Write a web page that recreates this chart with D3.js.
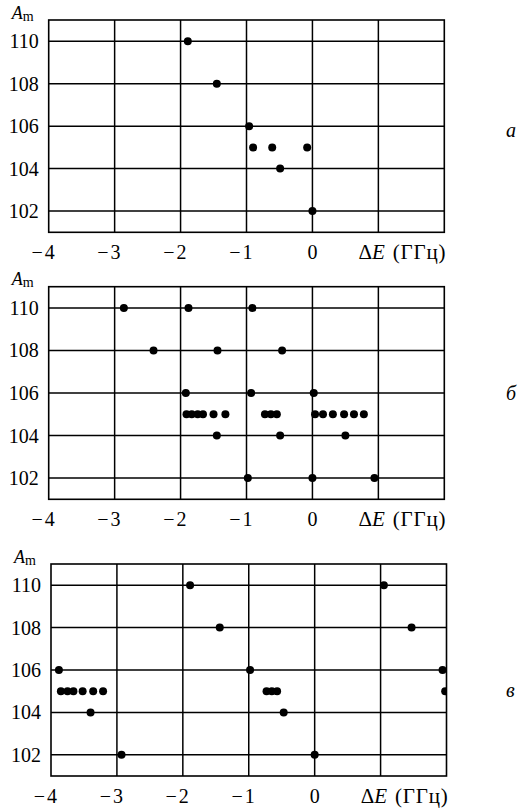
<!DOCTYPE html>
<html>
<head>
<meta charset="utf-8">
<script src="https://cdn.jsdelivr.net/npm/d3@7"></script>
<style>
  body { margin: 0; background: #fff; }
  svg { display: block; }
</style>
</head>
<body>
<div id="chart"></div>
<script>
// tick values shared by all three panels
const xTicks = [-4, -3, -2, -1, 0, 1, 2];
const xLabels = [-4, -3, -2, -1, 0];
const yTicks = [102, 104, 106, 108, 110];
const panelNames = ["a", "б", "в"];

// panel a
const dEa = [-1.89, -1.45, -0.96, -0.90, -0.61, -0.08, -0.49, 0.0];
const Ama = [110, 108, 106, 105, 105, 105, 104, 102];

// panel б
const dEb = [-2.86, -1.88, -0.91,
  -2.41, -1.44, -0.46,
  -1.92, -0.93, 0.02,
  -1.91, -1.83, -1.74, -1.66, -1.50, -1.32, -0.72, -0.63, -0.54, 0.04, 0.16, 0.31, 0.48, 0.63, 0.78,
  -1.45, -0.49, 0.50,
  -0.98, 0.0, 0.94];
const Amb = [110, 110, 110,
  108, 108, 108,
  106, 106, 106,
  105, 105, 105, 105, 105, 105, 105, 105, 105, 105, 105, 105, 105, 105, 105,
  104, 104, 104,
  102, 102, 102];

// panel в
const dEc = [-1.89, 1.05,
  -1.44, 1.47,
  -3.88, -0.98, 1.94,
  -3.85, -3.75, -3.66, -3.52, -3.36, -3.21, -0.73, -0.65, -0.57, 1.98,
  -3.40, -0.47,
  -2.93, 0.0];
const Amc = [110, 110,
  108, 108,
  106, 106, 106,
  105, 105, 105, 105, 105, 105, 105, 105, 105, 105,
  104, 104,
  102, 102];

const W = 518, H = 808;
const svg = d3.select("#chart").append("svg")
  .attr("width", W).attr("height", H)
  .attr("font-family", "'Liberation Serif', 'Times New Roman', Times, 'DejaVu Serif', serif");

// plot boxes (left, top, right, bottom) and letter positions
const boxes = [
  { l: 48.7, t: 20, r: 444.3, b: 232.3, ly: 137 },
  { l: 48.7, t: 286.7, r: 444.3, b: 499.3, ly: 400 },
  { l: 51, t: 564, r: 446.5, b: 776, ly: 697 }
];
const series = [[dEa, Ama], [dEb, Amb], [dEc, Amc]];

boxes.forEach((bx, i) => {
  const w = bx.r - bx.l, h = bx.b - bx.t;
  const x = d3.scaleLinear().domain([-4, 2]).range([0, w]);
  const y = d3.scaleLinear().domain([101, 111]).range([h, 0]);

  const g = svg.append("g").attr("transform", "translate(" + bx.l + "," + bx.t + ")");

  // grid
  g.selectAll(".vx").data(xTicks.slice(1, -1)).enter().append("line")
    .attr("x1", d => x(d)).attr("x2", d => x(d))
    .attr("y1", 0).attr("y2", h)
    .attr("stroke", "#000").attr("stroke-width", 1.5);
  g.selectAll(".hy").data(yTicks).enter().append("line")
    .attr("x1", 0).attr("x2", w)
    .attr("y1", d => y(d)).attr("y2", d => y(d))
    .attr("stroke", "#000").attr("stroke-width", 1.5);
  g.append("rect").attr("width", w).attr("height", h)
    .attr("fill", "none").attr("stroke", "#000").attr("stroke-width", 1.6);

  // points, clipped to the box
  const clipId = "clip" + i;
  g.append("clipPath").attr("id", clipId)
    .append("rect").attr("width", w).attr("height", h);
  const [xs, ys] = series[i];
  g.append("g").attr("clip-path", "url(#" + clipId + ")")
    .selectAll("circle").data(xs).enter().append("circle")
    .attr("cx", d => x(d))
    .attr("cy", (d, k) => y(ys[k]))
    .attr("r", 4)
    .attr("fill", "#000");

  // y tick labels
  g.selectAll(".yl").data(yTicks).enter().append("text")
    .attr("x", -10).attr("y", d => y(d)).attr("dy", "0.35em")
    .attr("text-anchor", "end").attr("font-size", 20)
    .text(d => d);

  // x tick labels: minus sign sits left of the digit
  xLabels.forEach(v => {
    const t = g.append("text")
      .attr("y", h + 27).attr("font-size", 20);
    if (v < 0) {
      t.attr("x", x(v) + 6).attr("text-anchor", "end");
      t.append("tspan").text("\u2212");
      t.append("tspan").attr("dx", 2).text(Math.abs(v));
    } else {
      t.attr("x", x(v)).attr("text-anchor", "middle").text(v);
    }
  });

  // x axis title
  const xt = g.append("text").attr("x", x(0) + 46).attr("y", h + 27).attr("font-size", 21);
  xt.append("tspan").text("\u0394");
  xt.append("tspan").attr("font-style", "italic").text("E");
  xt.append("tspan").attr("dx", 2).text(" (\u0413\u0413\u0446)").attr("letter-spacing", 0.8);

  // y axis title A_m
  const yt = g.append("text").attr("x", -37).attr("y", -1.5).attr("font-size", 18);
  yt.append("tspan").attr("font-style", "italic").text("A");
  yt.append("tspan").attr("font-size", 14).attr("dy", 2).text("m");

  // panel letter
  svg.append("text").attr("x", 506).attr("y", bx.ly)
    .attr("font-size", 20).attr("font-style", "italic")
    .text(panelNames[i]);
});
</script>
</body>
</html>
